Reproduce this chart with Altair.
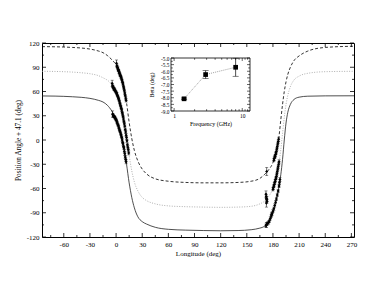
import altair as alt
import pandas as pd

FONT = "Liberation Serif"

# ---------------- model curves ----------------
curve_lon = [-85, -70, -60, -50, -40, -30, -20, -15, -10, -5,
             -2, 0, 3, 6, 9, 12, 15, 18, 21, 25,
             30, 35, 45, 60, 80, 100, 120, 140, 155, 165,
             170, 175, 180, 184, 187, 189, 191, 193, 195, 197,
             200, 204, 210, 220, 240, 273]
solid_val = [54.5, 54.3, 54, 53.5, 52.8, 51.5, 49, 47, 43, 36,
             30, 25, 16, 5, -10, -30, -53, -71, -84, -95,
             -101, -104, -108, -110.5, -111.5, -112, -112.3, -112, -111, -109,
             -107, -102, -90, -73, -57, -43, -24, 0, 21, 34,
             44, 50, 53, 54.2, 54.6, 54.7]
dotted_val = [85, 84.8, 84.5, 84, 83.2, 82, 79.5, 77, 74, 69,
              64, 60, 51, 39, 23, 3, -19, -38, -52, -63,
              -71, -75, -79, -81.5, -82.5, -83, -83.3, -83, -82, -79,
              -76, -70, -60, -45, -28, -12, 8, 28, 44, 55,
              66, 74, 79, 82.5, 84.5, 85]
dashed_val = [115.5, 115.3, 115, 114.5, 113.8, 112.5, 110, 108, 104.5, 99.5,
              96, 93.5, 87, 78, 65, 46, 22, 2, -13, -26,
              -36, -42, -48, -51, -52.5, -53, -53, -52.5, -51, -47.5,
              -43, -37, -28, -14, 5, 25, 44, 60, 72, 81,
              90, 98, 104, 110, 114.5, 116]

# ---------------- measured position angles ----------------
a_left_lon = [0.5, 1.0, 1.5, 2.0, 2.3, 2.7, 3.0, 3.4, 3.8, 4.2, 4.6, 5.0, 5.5,
              6.0, 6.5, 7.0, 7.5, 8.0, 8.5, 9.0, 9.5, 10.0, 10.5, 11.0, 11.5]
a_left_val = [95, 92, 90, 89, 87, 86, 86, 84, 83, 82, 80, 80, 78,
              77, 75, 73, 71, 69, 66, 64, 61, 58, 55, 52, 49]
a_left_err = [4, 2, 1.5, 1.5, 1.5, 1.5, 1.5, 1.5, 1.5, 1.5, 1.5, 1.5, 1.5,
              1.5, 1.5, 1.5, 1.5, 1.5, 1.5, 1.5, 1.5, 1.5, 1.5, 2, 2]

b_left_lon = [-4.5, -4.0, -3.6, -3.2, -2.8, -2.4, -2.0, -1.6, -1.0, -0.5, 0.0, 0.5,
              1.0, 1.5, 2.0, 2.5, 3.0, 3.5, 4.0, 4.5, 5.0, 5.5, 6.0, 6.5, 7.0,
              7.5, 8.0, 8.5, 9.0, 9.5, 10.0, 10.5, 11.0, 11.5, 12.0, 12.5,
              13.0, 13.5, 14.0, 14.5]
b_left_val = [70, 67, 66, 65, 64, 63, 63, 62, 61, 60, 59, 58,
              57, 55, 54, 52, 51, 49, 47, 45, 43, 41, 39, 37, 34,
              32, 29, 26, 23, 20, 17, 13, 10, 6, 3, -1,
              -6, -9, -12, -16]
b_left_err = [4, 2, 1.5, 1.5, 1.5, 1.5, 1.5, 1.5, 1.5, 1.5, 1.5, 1.5,
              1.5, 1.5, 1.5, 1.5, 1.5, 1.5, 1.5, 1.5, 1.5, 1.5, 1.5, 1.5, 1.5,
              1.5, 1.5, 1.5, 1.5, 1.5, 1.5, 1.5, 2, 2, 2, 2,
              2, 2, 2, 2.5]

c_left_lon = [-4.0, -3.5, -3.0, -2.5, -2.0, -1.5, -1.0, -0.5, 0.0, 0.5, 1.0,
              1.5, 2.0, 2.5, 3.0, 3.5, 4.0, 4.5, 5.0, 5.5, 6.0, 6.5, 7.0,
              7.5, 8.0, 8.5, 9.0, 9.5, 10.0, 10.5, 11.0, 11.5]
c_left_val = [32, 31, 30, 29, 29, 28, 27, 26, 25, 24, 22,
              21, 19, 18, 16, 14, 12, 11, 9, 7, 5, 3, 0,
              -3, -5, -8, -10, -14, -17, -21, -24, -27]
c_left_err = [4, 2, 1.5, 1.5, 1.5, 1.5, 1.5, 1.5, 1.5, 1.5, 1.5,
              1.5, 1.5, 1.5, 1.5, 1.5, 1.5, 1.5, 1.5, 1.5, 1.5, 1.5, 1.5,
              1.5, 1.5, 1.5, 1.5, 2, 2, 2, 2, 2.5]

a_right_lon = [172.8, 181.0, 181.5, 182.0, 182.5, 183.0, 183.5, 184.0, 184.5,
               185.0, 185.5, 186.0, 186.5]
a_right_val = [-39, -25, -23, -21, -20, -18, -16, -14, -11, -8, -5, -2, 1]
a_right_err = [5, 2, 2, 2, 2, 2, 2, 2, 2, 2, 2, 2, 2.5]

b_right_lon = [172.0, 172.3, 172.6, 172.9, 173.2, 172.5, 180.0, 180.5, 181.0,
               181.5, 182.0, 182.5, 183.0, 183.5, 184.0, 184.5, 185.0, 185.5,
               186.0, 186.5, 187.0]
b_right_val = [-67, -70, -72, -74, -76, -78, -61, -59, -57,
               -55, -53, -51, -49, -47, -45, -42, -39, -36,
               -33, -30, -27]
b_right_err = [4, 2, 2, 2, 2, 5, 2, 2, 2, 2, 2, 2, 2, 2, 2, 2, 2, 2, 2, 2, 2.5]

c_right_lon = [172.0, 172.5, 173.0, 174.0, 175.0, 176.0, 177.0, 178.0, 178.5,
               179.0, 180.0, 181.0, 182.0, 183.0, 184.0, 185.0, 186.0, 187.0,
               187.5, 188.0]
c_right_val = [-106, -105, -104, -103, -102, -100, -97, -94, -92,
               -91, -88, -85, -81, -77, -73, -68, -63, -57,
               -53, -49]
c_right_err = [2, 3, 2, 2, 2, 2, 2, 2, 2, 2, 2, 2, 2, 2, 2, 2, 2, 2, 2, 2.5]

# ---------------- tick values ----------------
x_major = [-60, -30, 0, 30, 60, 90, 120, 150, 180, 210, 240, 270]
x_minor = [-75, -45, -15, 15, 45, 75, 105, 135, 165, 195, 225, 255]
y_major = [-120, -90, -60, -30, 0, 30, 60, 90, 120]
y_minor = [-105, -75, -45, -15, 15, 45, 75, 105]

# ---------------- inset: beta vs frequency ----------------
inset_freq = [1.4, 2.9, 8.0]
inset_beta = [-8.08, -6.25, -5.7]
inset_err = [0.06, 0.3, 0.68]
inset_x_major = [1, 10]
inset_x_minor = [2, 3, 4, 5, 6, 7, 8, 9, 11, 12]
inset_y_major = [-9.0, -8.5, -8.0, -7.5, -7.0, -6.5, -6.0, -5.5, -5.0]
inset_y_minor = [-8.75, -8.25, -7.75, -7.25, -6.75, -6.25, -5.75, -5.25]

W, H = 312, 194
IX0, IX1, IY0, IY1 = 129, 208, 15, 68

xs = alt.Scale(domain=[-85, 273], nice=False, zero=False)
ys = alt.Scale(domain=[-120, 120], nice=False, zero=False)
ixs = alt.Scale(type="log", domain=[0.9, 13], range=[IX0, IX1], nice=False)
iys = alt.Scale(domain=[-9, -5], range=[IY1, IY0], nice=False, zero=False)

common = dict(ticks=False, domain=False, grid=False, labelFont=FONT, labelColor="#000000",
              labelOverlap=False, titleFont=FONT, titleFontWeight="normal", titleColor="#000000")

INT_LABEL = "datum.value < 0 ? '-' + format(-datum.value, 'd') : format(datum.value, 'd')"
DEC_LABEL = "datum.value < 0 ? '-' + format(-datum.value, '.1f') : format(datum.value, '.1f')"

x_axis = alt.Axis(orient="bottom", values=x_major, labelFontSize=7, labelPadding=3,
                  labelFlush=False, labelExpr=INT_LABEL,
                  title="Longitude (deg)", titleFontSize=7, titlePadding=2, **common)
y_axis = alt.Axis(orient="left", values=y_major, labelFontSize=7, labelPadding=3, labelExpr=INT_LABEL,
                  title="Position Angle + 47.1 (deg)", titleFontSize=7.3, titlePadding=4, **common)
ix_axis = alt.Axis(orient="bottom", offset=IY1 - H, values=inset_x_major, labelFontSize=5.5,
                   labelPadding=2, labelFlush=False, format="d",
                   title="Frequency (GHz)", titleFontSize=6, titlePadding=2, **common)
iy_axis = alt.Axis(orient="left", offset=-IX0, values=inset_y_major, labelFontSize=5.3,
                   labelPadding=2, labelExpr=DEC_LABEL,
                   title="Beta (deg)", titleFontSize=6, titlePadding=6, **common)

layers = []

curves = pd.DataFrame({"lon": curve_lon, "solid": solid_val,
                       "dotted": dotted_val, "dashed": dashed_val})
layers.append(alt.Chart(curves).mark_line(color="#222222", strokeWidth=0.8, interpolate="monotone").encode(
    x=alt.X("lon:Q", scale=xs, axis=x_axis), y=alt.Y("solid:Q", scale=ys, axis=y_axis)))
layers.append(alt.Chart(curves).mark_line(color="#9a9a9a", strokeWidth=0.8, strokeDash=[1, 1.5],
                                          interpolate="monotone").encode(
    x=alt.X("lon:Q", scale=xs, axis=None), y=alt.Y("dotted:Q", scale=ys, axis=None)))
layers.append(alt.Chart(curves).mark_line(color="black", strokeWidth=0.8, strokeDash=[3, 2],
                                          interpolate="monotone").encode(
    x=alt.X("lon:Q", scale=xs, axis=None), y=alt.Y("dashed:Q", scale=ys, axis=None)))

pts = pd.DataFrame({
    "lon": a_left_lon + b_left_lon + c_left_lon + a_right_lon + b_right_lon + c_right_lon,
    "val": a_left_val + b_left_val + c_left_val + a_right_val + b_right_val + c_right_val,
    "err": a_left_err + b_left_err + c_left_err + a_right_err + b_right_err + c_right_err,
})
pbase = alt.Chart(pts).transform_calculate(lo="datum.val - datum.err", hi="datum.val + datum.err")
layers.append(pbase.mark_rule(color="black", strokeWidth=0.6).encode(
    x=alt.X("lon:Q", scale=xs, axis=None), y=alt.Y("lo:Q", scale=ys, axis=None), y2="hi:Q"))
for f in ["lo", "hi"]:
    layers.append(pbase.mark_tick(color="black", thickness=0.6, size=3, orient="horizontal").encode(
        x=alt.X("lon:Q", scale=xs, axis=None), y=alt.Y(f + ":Q", scale=ys, axis=None)))
layers.append(alt.Chart(pts).mark_point(shape="diamond", filled=True, size=10, color="black", opacity=1).encode(
    x=alt.X("lon:Q", scale=xs, axis=None), y=alt.Y("val:Q", scale=ys, axis=None)))


def xticks(vals, size, scale, ybot, ytop, width=0.8):
    df = pd.DataFrame({"v": vals})
    b = alt.Chart(df).mark_rule(color="black", strokeWidth=width).encode(
        x=alt.X("v:Q", scale=scale, axis=None), y=alt.value(ybot), y2=alt.value(ybot - size))
    t = alt.Chart(df).mark_rule(color="black", strokeWidth=width).encode(
        x=alt.X("v:Q", scale=scale, axis=None), y=alt.value(ytop), y2=alt.value(ytop + size))
    return [b, t]


def yticks(vals, size, scale, xleft, xright, width=0.8):
    df = pd.DataFrame({"v": vals})
    l = alt.Chart(df).mark_rule(color="black", strokeWidth=width).encode(
        y=alt.Y("v:Q", scale=scale, axis=None), x=alt.value(xleft), x2=alt.value(xleft + size))
    r = alt.Chart(df).mark_rule(color="black", strokeWidth=width).encode(
        y=alt.Y("v:Q", scale=scale, axis=None), x=alt.value(xright), x2=alt.value(xright - size))
    return [l, r]


layers += (xticks(x_major, 4, xs, H, 0) + xticks(x_minor, 2, xs, H, 0)
           + yticks(y_major, 4, ys, 0, W) + yticks(y_minor, 2, ys, 0, W))

# ---------------- inset ----------------
box_df = pd.DataFrame({"x0": [0.9], "x1": [13], "y0": [-9.0], "y1": [-5.0]})
layers.append(alt.Chart(box_df).mark_rect(fill="white", stroke="black", strokeWidth=0.8).encode(
    x=alt.X("x0:Q", scale=ixs, axis=ix_axis), x2="x1:Q",
    y=alt.Y("y0:Q", scale=iys, axis=iy_axis), y2="y1:Q"))

layers += (xticks(inset_x_major, 3, ixs, IY1, IY0, 0.6) + xticks(inset_x_minor, 1.8, ixs, IY1, IY0, 0.6)
           + yticks(inset_y_major, 3, iys, IX0, IX1, 0.6) + yticks(inset_y_minor, 1.8, iys, IX0, IX1, 0.6))

inset_df = pd.DataFrame({"freq": inset_freq, "beta": inset_beta, "err": inset_err})
ibase = alt.Chart(inset_df).transform_calculate(lo="datum.beta - datum.err", hi="datum.beta + datum.err")
layers.append(alt.Chart(inset_df).mark_line(color="#8a8a8a", strokeWidth=0.8, strokeDash=[1, 1]).encode(
    x=alt.X("freq:Q", scale=ixs, axis=None), y=alt.Y("beta:Q", scale=iys, axis=None)))
layers.append(ibase.mark_rule(color="black", strokeWidth=0.7).encode(
    x=alt.X("freq:Q", scale=ixs, axis=None), y=alt.Y("lo:Q", scale=iys, axis=None), y2="hi:Q"))
for f in ["lo", "hi"]:
    layers.append(ibase.mark_tick(color="black", thickness=0.7, size=6, orient="horizontal").encode(
        x=alt.X("freq:Q", scale=ixs, axis=None), y=alt.Y(f + ":Q", scale=iys, axis=None)))
layers.append(alt.Chart(inset_df).mark_point(shape="square", filled=True, size=22, color="black", opacity=1).encode(
    x=alt.X("freq:Q", scale=ixs, axis=None), y=alt.Y("beta:Q", scale=iys, axis=None)))

chart = alt.layer(*layers).resolve_scale(x="independent", y="independent").properties(
    width=W, height=H,
    autosize=alt.AutoSizeParams(type="none"),
    padding={"left": 34, "top": 35, "right": 10, "bottom": 40},
    background="white",
).configure_view(stroke="black", strokeWidth=1)

chart.save("out.html", embed_options={"renderer": "svg", "actions": False})
